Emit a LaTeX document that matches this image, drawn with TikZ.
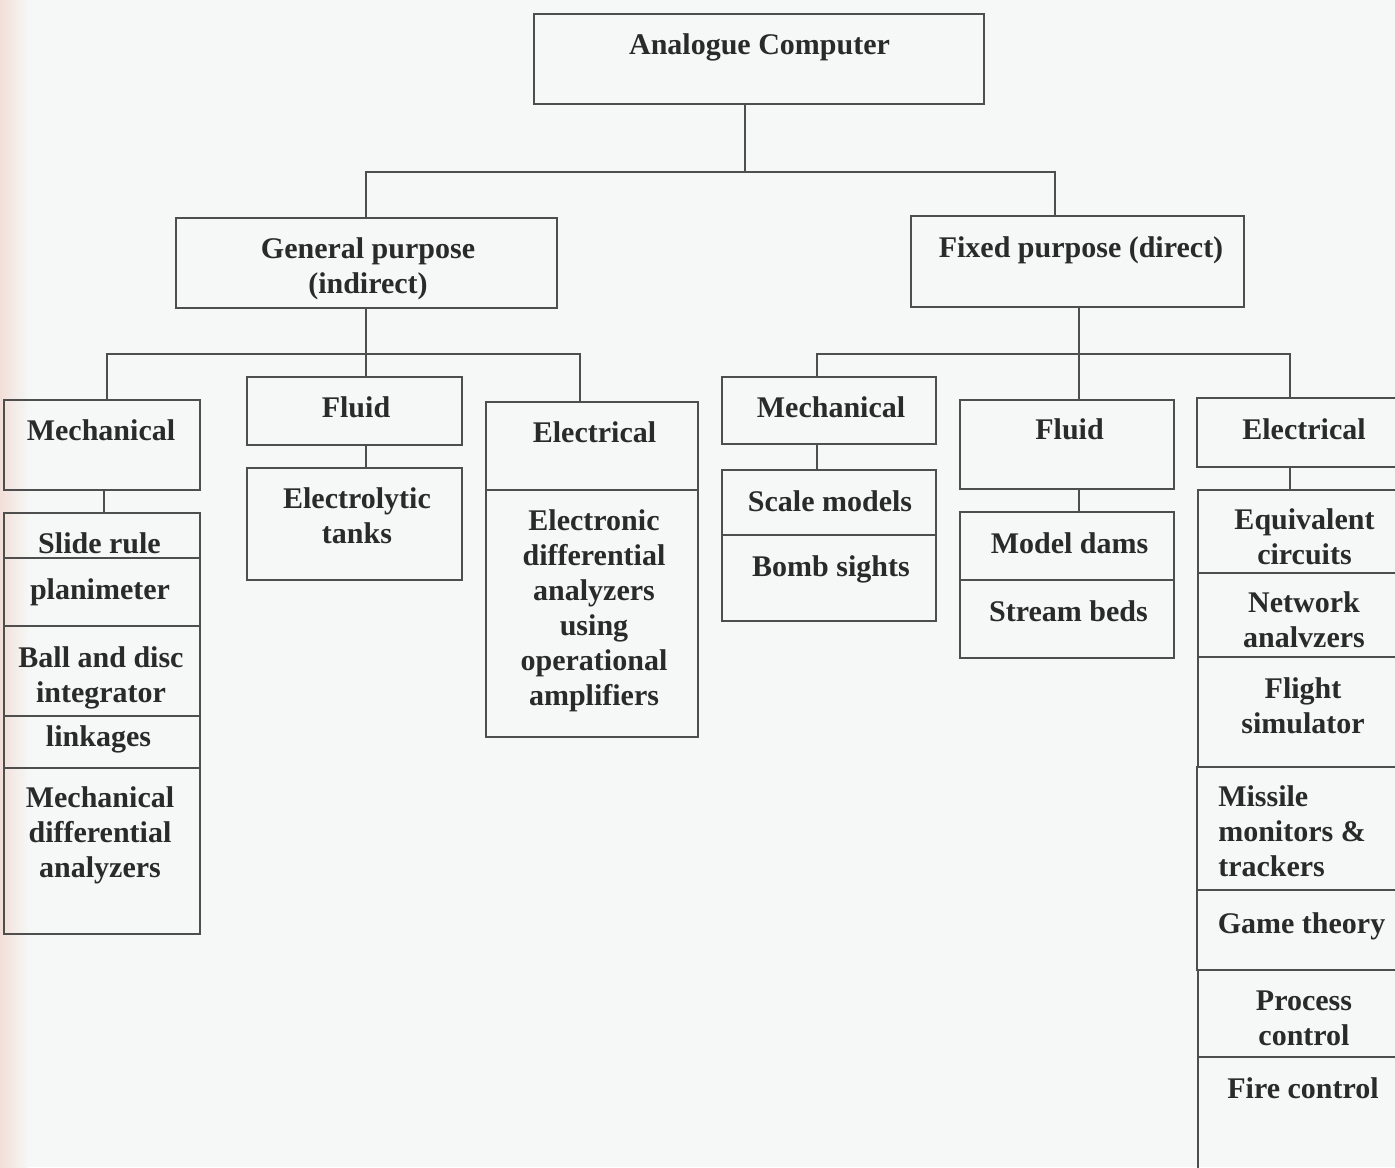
\documentclass[tikz,border=0pt]{standalone}
\usepackage{fontspec}
\setmainfont{Liberation Serif}
\usetikzlibrary{fit}
\definecolor{bg}{RGB}{245,248,246}
\definecolor{pinkedge}{RGB}{242,222,216}
\definecolor{ink}{RGB}{42,42,42}
\definecolor{rulec}{RGB}{78,78,78}
\tikzset{
  cell/.style={draw=rulec, line width=1.4pt, inner sep=0pt},
  txt/.style={font=\bfseries\fontsize{22.5}{26.25}\selectfont, text=ink, align=center, inner sep=0pt},
  wire/.style={draw=rulec, line width=1.4pt},
}
\begin{document}
\begin{tikzpicture}[x=0.75pt,y=-0.75pt]
\useasboundingbox (0,0) rectangle (1395,1167);
\clip (0,0) rectangle (1395,1167);
\fill[bg] (0,0) rectangle (1395,1167);
\shade[left color=pinkedge, right color=bg] (0,0) rectangle (28,1167);

% root
\node[cell, fit={(534,14) (984,104)}] (root) {};
\node[txt] (troot) at (759.5,47) {\strut Analogue Computer};

% second level
\node[cell, fit={(176,218) (557,308)}] (gp) {};
\node[txt] (tgp) at (368,268.5) {\strut General purpose\\\strut (indirect)};
\node[cell, fit={(911,216) (1244,307)}] (fp) {};
\node[txt] (tfp) at (1081,250) {\strut Fixed purpose (direct)};

\coordinate (bus1) at (745,172);
\coordinate (topL) at (366,172);
\coordinate (topR) at (1055,172);
\draw[wire] (root.south -| bus1) -- (bus1);
\draw[wire] (gp.north -| topL) -- (topL) -- (topR) -- (fp.north -| topR);

% ---------- General purpose subtree ----------
\node[cell, fit={(4,400) (200,490)}] (gm) {};
\node[txt] (tgm) at (101,433) {\strut Mechanical};
\node[cell, fit={(4,513) (200,558)}] (gl1) {};
\node[cell, fit={(4,558) (200,626)}] (gl2) {};
\node[cell, fit={(4,626) (200,716)}] (gl3) {};
\node[cell, fit={(4,716) (200,768)}] (gl4) {};
\node[cell, fit={(4,768) (200,934)}] (gl5) {};
\node[txt] (tgl1) at (99.5,546) {\strut Slide rule};
\node[txt] (tgl2) at (100,592) {\strut planimeter};
\node[txt] (tgl3) at (101,677.5) {\strut Ball and disc\\\strut integrator};
\node[txt] (tgl4) at (98.5,739) {\strut linkages};
\node[txt] (tgl5) at (100,835.5) {\strut Mechanical\\\strut differential\\\strut analyzers};

\node[cell, fit={(247,377) (462,445)}] (gf) {};
\node[txt] (tgf) at (356,410) {\strut Fluid};
\node[cell, fit={(247,468) (462,580)}] (gf1) {};
\node[txt] (tgf1) at (357,518.5) {\strut Electrolytic\\\strut tanks};

\node[cell, fit={(486,402) (698,490)}] (ge) {};
\node[txt] (tge) at (594.5,435) {\strut Electrical};
\node[cell, fit={(486,490) (698,737)}] (ge1) {};
\node[txt] (tge1) at (594,611) {\strut Electronic\\\strut differential\\\strut analyzers\\\strut using\\\strut operational\\\strut amplifiers};

\coordinate (gL) at (107,354);
\coordinate (gF) at (366,354);
\coordinate (gE) at (580,354);
\coordinate (gmx) at (104,500);
\draw[wire] (gp.south -| gF) -- (gF);
\draw[wire] (gm.north -| gL) -- (gL) -- (gE) -- (ge.north -| gE);
\draw[wire] (gF) -- (gf.north -| gF);
\draw[wire] (gm.south -| gmx) -- (gl1.north -| gmx);
\draw[wire] (gf.south -| gF) -- (gf1.north -| gF);

% ---------- Fixed purpose subtree ----------
\node[cell, fit={(722,377) (936,444)}] (fm) {};
\node[txt] (tfm) at (831,410) {\strut Mechanical};
\node[cell, fit={(722,470) (936,535)}] (fm1) {};
\node[cell, fit={(722,535) (936,621)}] (fm2) {};
\node[txt] (tfm1) at (830,504) {\strut Scale models};
\node[txt] (tfm2) at (831,569) {\strut Bomb sights};

\node[cell, fit={(960,400) (1174,489)}] (ff) {};
\node[txt] (tff) at (1069.5,432) {\strut Fluid};
\node[cell, fit={(960,512) (1174,580)}] (ff1) {};
\node[cell, fit={(960,580) (1174,658)}] (ff2) {};
\node[txt] (tff1) at (1069.5,546) {\strut Model dams};
\node[txt] (tff2) at (1068.5,614) {\strut Stream beds};

\node[cell, fit={(1197,398) (1412,467)}] (fe) {};
\node[txt] (tfe) at (1304,432) {\strut Electrical};
\node[cell, fit={(1198,490) (1412,573)}] (fe1) {};
\node[cell, fit={(1198,573) (1412,657)}] (fe2) {};
\node[cell, fit={(1198,657) (1412,767)}] (fe3) {};
\node[cell, fit={(1197,767) (1412,890)}] (fe4) {};
\node[cell, fit={(1197,890) (1412,970)}] (fe5) {};
\node[cell, fit={(1198,970) (1412,1057)}] (fe6) {};
\node[cell, fit={(1198,1057) (1412,1185)}] (fe7) {};
\node[txt] (tfe1) at (1304.5,540) {\strut Equivalent\\\strut circuits};
\node[txt] (tfe2) at (1304,623) {\strut Network\\\strut analvzers};
\node[txt] (tfe3) at (1303,709) {\strut Flight\\\strut simulator};
\node[txt, anchor=west, align=left] (tfe4) at (1218,834.5) {\strut Missile\\\strut monitors \&\\\strut trackers};
\node[txt] (tfe5) at (1301.5,926) {\strut Game theory};
\node[txt] (tfe6) at (1304,1021) {\strut Process\\\strut control};
\node[txt] (tfe7) at (1303,1091) {\strut Fire control};

\coordinate (fL) at (817,354);
\coordinate (fF) at (1079,354);
\coordinate (fE) at (1290,354);
\draw[wire] (fp.south -| fF) -- (fF);
\draw[wire] (fm.north -| fL) -- (fL) -- (fE) -- (fe.north -| fE);
\draw[wire] (fF) -- (ff.north -| fF);
\draw[wire] (fm.south -| fL) -- (fm1.north -| fL);
\draw[wire] (ff.south -| fF) -- (ff1.north -| fF);
\draw[wire] (fe.south -| fE) -- (fe1.north -| fE);
\end{tikzpicture}
\end{document}
